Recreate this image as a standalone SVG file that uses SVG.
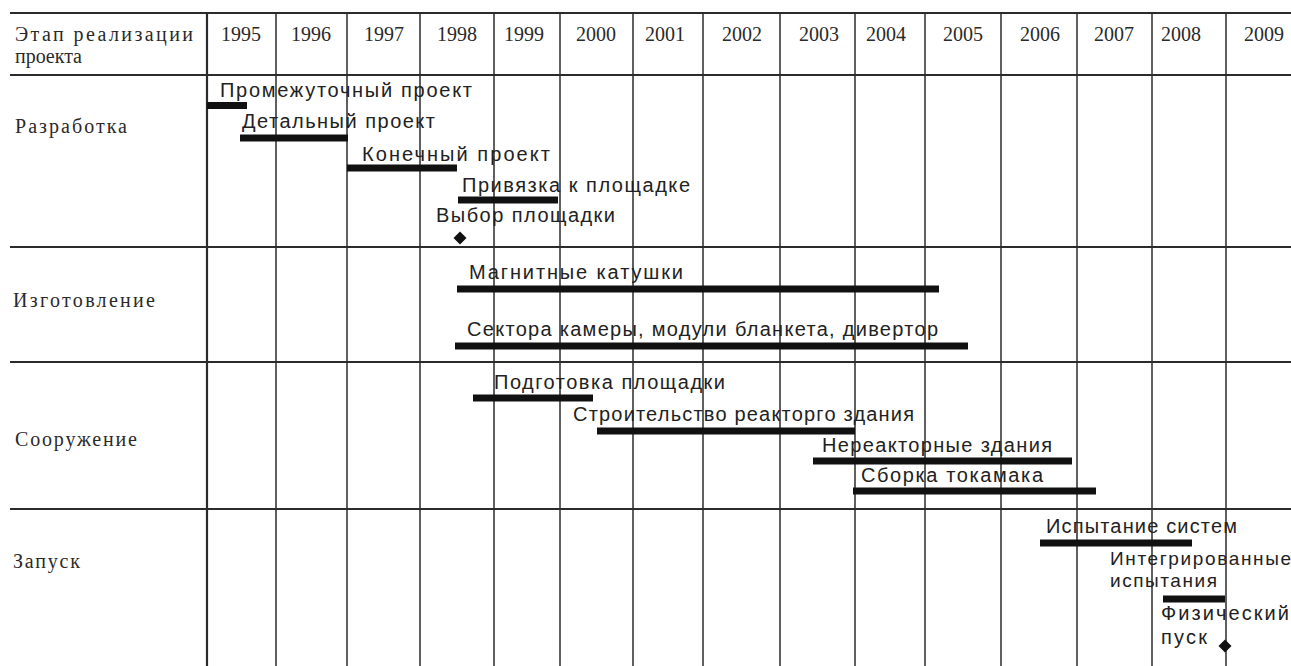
<svg xmlns="http://www.w3.org/2000/svg" width="1291" height="666" viewBox="0 0 1291 666">
  <style>
    .bg { fill: #ffffff; }
    .hl { stroke: #2b2b2b; stroke-width: 2; fill: none; }
    .vl { stroke: #2b2b2b; stroke-width: 1.5; fill: none; }
    .serif { font-family: "Liberation Serif", "Times New Roman", serif; font-size: 20px; fill: #2a2a2a; }
    .yr { text-anchor: middle; }
    .lbl { font-family: "Liberation Sans", Arial, sans-serif; font-size: 20px; fill: #222222; }
    .sm { font-size: 19px; }
    .bar { fill: #111111; }
    .ms { fill: #111111; }
  </style>

  <rect class="bg" x="0" y="0" width="1291" height="666"/>

  <!-- table grid -->
  <g id="grid">
    <line class="hl" x1="10" y1="13" x2="1291" y2="13"/>
    <line class="hl" x1="10" y1="75" x2="1291" y2="75"/>
    <line class="hl" x1="10" y1="247" x2="1291" y2="247"/>
    <line class="hl" x1="10" y1="362" x2="1291" y2="362"/>
    <line class="hl" x1="10" y1="509" x2="1291" y2="509"/>
    <line class="vl" x1="207" y1="13" x2="207" y2="666" style="stroke-width:2.2"/>
    <line class="vl" x1="276" y1="13" x2="276" y2="666"/>
    <line class="vl" x1="347" y1="13" x2="347" y2="666"/>
    <line class="vl" x1="420" y1="13" x2="420" y2="666"/>
    <line class="vl" x1="494" y1="13" x2="494" y2="666"/>
    <line class="vl" x1="560" y1="13" x2="560" y2="666"/>
    <line class="vl" x1="633" y1="13" x2="633" y2="666"/>
    <line class="vl" x1="703" y1="13" x2="703" y2="666"/>
    <line class="vl" x1="780" y1="13" x2="780" y2="666"/>
    <line class="vl" x1="855" y1="13" x2="855" y2="666"/>
    <line class="vl" x1="925" y1="13" x2="925" y2="666"/>
    <line class="vl" x1="1001" y1="13" x2="1001" y2="666"/>
    <line class="vl" x1="1077" y1="13" x2="1077" y2="666"/>
    <line class="vl" x1="1152" y1="13" x2="1152" y2="666"/>
    <line class="vl" x1="1226" y1="13" x2="1226" y2="666"/>
  </g>

  <!-- header row -->
  <g id="header">
    <text class="serif" x="15" y="41" textLength="178" lengthAdjust="spacing">Этап реализации</text>
    <text class="serif" x="15" y="63" textLength="67" lengthAdjust="spacing">проекта</text>
    <text class="serif yr" x="241" y="41">1995</text>
    <text class="serif yr" x="311" y="41">1996</text>
    <text class="serif yr" x="384" y="41">1997</text>
    <text class="serif yr" x="457" y="41">1998</text>
    <text class="serif yr" x="524" y="41">1999</text>
    <text class="serif yr" x="596" y="41">2000</text>
    <text class="serif yr" x="665" y="41">2001</text>
    <text class="serif yr" x="742" y="41">2002</text>
    <text class="serif yr" x="819" y="41">2003</text>
    <text class="serif yr" x="886" y="41">2004</text>
    <text class="serif yr" x="963" y="41">2005</text>
    <text class="serif yr" x="1040" y="41">2006</text>
    <text class="serif yr" x="1114" y="41">2007</text>
    <text class="serif yr" x="1181" y="41">2008</text>
    <text class="serif yr" x="1264" y="41">2009</text>
  </g>

  <!-- phase labels -->
  <g id="phases">
    <text class="serif" x="15" y="133" textLength="112" lengthAdjust="spacing">Разработка</text>
    <text class="serif" x="13" y="307" textLength="142" lengthAdjust="spacing">Изготовление</text>
    <text class="serif" x="15" y="446" textLength="122" lengthAdjust="spacing">Сооружение</text>
    <text class="serif" x="13" y="568" textLength="67" lengthAdjust="spacing">Запуск</text>
  </g>

  <!-- design tasks -->
  <g id="task-interim-design">
    <rect class="bar" x="207" y="102" width="40" height="7"/>
    <text class="lbl" x="220" y="97" textLength="252" lengthAdjust="spacing">Промежуточный проект</text>
  </g>
  <g id="task-detailed-design">
    <rect class="bar" x="240" y="134.5" width="108" height="7"/>
    <text class="lbl" x="242" y="128" textLength="193" lengthAdjust="spacing">Детальный проект</text>
  </g>
  <g id="task-final-design">
    <rect class="bar" x="347" y="164.5" width="110" height="7"/>
    <text class="lbl" x="362" y="161" textLength="188" lengthAdjust="spacing">Конечный проект</text>
  </g>
  <g id="task-site-adaptation">
    <rect class="bar" x="458" y="196.5" width="100" height="7"/>
    <text class="lbl" x="462" y="192" textLength="228" lengthAdjust="spacing">Привязка к площадке</text>
  </g>
  <g id="milestone-site-selection">
    <text class="lbl" x="436" y="222" textLength="179" lengthAdjust="spacing">Выбор площадки</text>
    <path class="ms" d="M460 231.5 L466.5 238 L460 244.5 L453.5 238 Z"/>
  </g>

  <!-- manufacturing tasks -->
  <g id="task-magnet-coils">
    <rect class="bar" x="457" y="285.5" width="482" height="7"/>
    <text class="lbl" x="469" y="279" textLength="214" lengthAdjust="spacing">Магнитные катушки</text>
  </g>
  <g id="task-vessel-blanket-divertor">
    <rect class="bar" x="455" y="342.5" width="513" height="7"/>
    <text class="lbl" x="467" y="336" textLength="471" lengthAdjust="spacing">Сектора камеры, модули бланкета, дивертор</text>
  </g>

  <!-- construction tasks -->
  <g id="task-site-preparation">
    <rect class="bar" x="473" y="394.5" width="120" height="7"/>
    <text class="lbl" x="494" y="389" textLength="231" lengthAdjust="spacing">Подготовка площадки</text>
  </g>
  <g id="task-reactor-building">
    <rect class="bar" x="597" y="427.5" width="258" height="7"/>
    <text class="lbl" x="573" y="421" textLength="341" lengthAdjust="spacing">Строительство реакторго здания</text>
  </g>
  <g id="task-auxiliary-buildings">
    <rect class="bar" x="813" y="457.5" width="259" height="7"/>
    <text class="lbl" x="822" y="452" textLength="230" lengthAdjust="spacing">Нереакторные здания</text>
  </g>
  <g id="task-tokamak-assembly">
    <rect class="bar" x="853" y="487.5" width="243" height="7"/>
    <text class="lbl" x="861" y="482" textLength="182" lengthAdjust="spacing">Сборка токамака</text>
  </g>

  <!-- commissioning tasks -->
  <g id="task-system-tests">
    <rect class="bar" x="1040" y="539.5" width="152" height="7"/>
    <text class="lbl" x="1046" y="533" textLength="191" lengthAdjust="spacing">Испытание систем</text>
  </g>
  <g id="task-integrated-tests">
    <rect class="bar" x="1163" y="595.5" width="62" height="7"/>
    <text class="lbl sm" x="1110" y="565" textLength="181" lengthAdjust="spacing">Интегрированные</text>
    <text class="lbl sm" x="1110" y="587" textLength="107" lengthAdjust="spacing">испытания</text>
  </g>
  <g id="milestone-first-plasma">
    <text class="lbl" x="1161" y="620" textLength="128" lengthAdjust="spacing">Физический</text>
    <text class="lbl" x="1161" y="644" textLength="46" lengthAdjust="spacing">пуск</text>
    <path class="ms" d="M1225 639.5 L1231.5 646 L1225 652.5 L1218.5 646 Z"/>
  </g>
</svg>
